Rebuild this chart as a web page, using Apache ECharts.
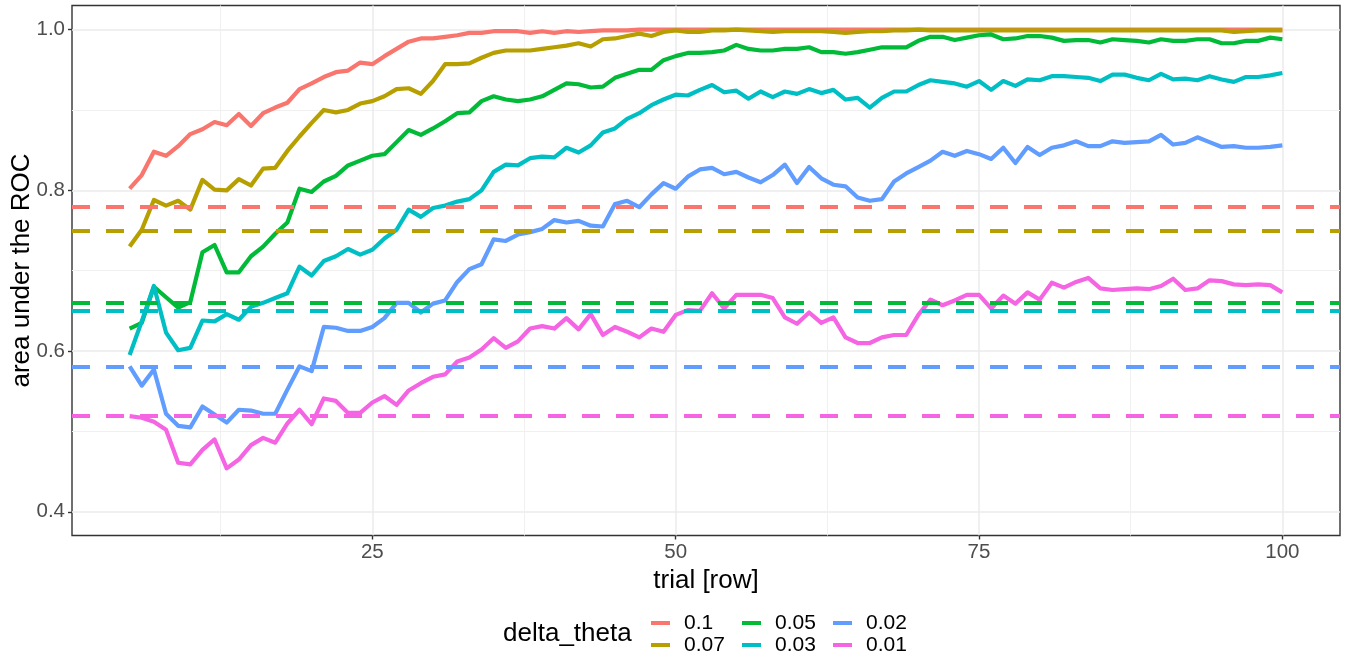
<!DOCTYPE html>
<html>
<head>
<meta charset="utf-8">
<script src="https://cdn.jsdelivr.net/npm/echarts@6/dist/echarts.min.js"></script>
<style>
html, body { margin: 0; padding: 0; background: #fff; }
#chart { width: 1351px; height: 656px; }
</style>
</head>
<body>
<div id="chart"></div>
<script>
// trials 5..100, one value per trial
const trialFirst = 5;
const trialLast = 100;

const auc_0_1 = [
  0.802, 0.819, 0.848, 0.843, 0.855, 0.870, 0.876, 0.885, 0.881, 0.895,
  0.880, 0.896, 0.903, 0.909, 0.926, 0.933, 0.941, 0.947, 0.949, 0.959,
  0.957, 0.967, 0.976, 0.985, 0.989, 0.989, 0.991, 0.993, 0.996, 0.996,
  0.998, 0.998, 0.998, 0.996, 0.998, 0.996, 0.998, 0.997, 0.998, 0.999,
  0.999, 0.999, 1.000, 1.000, 1.000, 1.000, 1.000, 1.000, 1.000, 1.000,
  1.000, 1.000, 1.000, 1.000, 1.000, 1.000, 1.000, 1.000, 1.000, 1.000,
  1.000, 1.000, 1.000, 1.000, 1.000, 1.000, 1.000, 1.000, 1.000, 1.000,
  1.000, 1.000, 1.000, 1.000, 1.000, 1.000, 1.000, 1.000, 1.000, 1.000,
  1.000, 1.000, 1.000, 1.000, 1.000, 1.000, 1.000, 1.000, 1.000, 1.000,
  1.000, 1.000, 1.000, 1.000, 1.000, 1.000
];
const auc_0_07 = [
  0.730, 0.751, 0.788, 0.781, 0.787, 0.776, 0.813, 0.801, 0.800, 0.814,
  0.806, 0.827, 0.828, 0.849, 0.867, 0.884, 0.900, 0.897, 0.900, 0.908,
  0.911, 0.917, 0.926, 0.927, 0.920, 0.936, 0.957, 0.957, 0.958, 0.965,
  0.971, 0.974, 0.974, 0.974, 0.976, 0.978, 0.980, 0.983, 0.979, 0.988,
  0.989, 0.992, 0.995, 0.992, 0.997, 0.999, 0.997, 0.997, 0.999, 0.999,
  1.000, 0.999, 0.998, 0.997, 0.998, 0.998, 0.998, 0.998, 0.997, 0.996,
  0.997, 0.998, 0.998, 0.999, 0.999, 1.000, 0.999, 0.999, 0.999, 0.999,
  0.999, 0.999, 0.999, 0.999, 0.999, 0.999, 0.999, 0.999, 0.999, 0.999,
  0.999, 0.999, 0.999, 0.999, 0.999, 0.999, 0.999, 0.999, 0.999, 0.999,
  0.999, 0.997, 0.998, 0.999, 0.999, 0.999
];
const auc_0_05 = [
  0.628, 0.635, 0.680, 0.667, 0.654, 0.661, 0.723, 0.732, 0.698, 0.698,
  0.718, 0.730, 0.746, 0.760, 0.802, 0.798, 0.811, 0.818, 0.831, 0.837,
  0.843, 0.845, 0.860, 0.875, 0.869, 0.877, 0.886, 0.896, 0.897, 0.911,
  0.917, 0.913, 0.911, 0.913, 0.917, 0.925, 0.933, 0.932, 0.928, 0.929,
  0.940, 0.945, 0.950, 0.950, 0.962, 0.967, 0.971, 0.971, 0.972, 0.974,
  0.981, 0.976, 0.974, 0.974, 0.976, 0.976, 0.978, 0.972, 0.972, 0.970,
  0.972, 0.975, 0.978, 0.978, 0.978, 0.986, 0.991, 0.991, 0.987, 0.990,
  0.993, 0.994, 0.988, 0.989, 0.992, 0.992, 0.990, 0.986, 0.987, 0.987,
  0.984, 0.988, 0.987, 0.986, 0.984, 0.988, 0.986, 0.986, 0.988, 0.988,
  0.983, 0.983, 0.986, 0.986, 0.990, 0.988
];
const auc_0_03 = [
  0.595, 0.637, 0.681, 0.623, 0.601, 0.604, 0.638, 0.637, 0.646, 0.639,
  0.655, 0.660, 0.666, 0.672, 0.705, 0.694, 0.712, 0.718, 0.727, 0.720,
  0.726, 0.740, 0.751, 0.776, 0.767, 0.778, 0.781, 0.786, 0.789, 0.800,
  0.823, 0.832, 0.831, 0.840, 0.842, 0.841, 0.853, 0.847, 0.856, 0.872,
  0.877, 0.889, 0.896, 0.906, 0.913, 0.919, 0.918, 0.925, 0.931, 0.922,
  0.924, 0.914, 0.923, 0.916, 0.923, 0.920, 0.926, 0.921, 0.925, 0.913,
  0.915, 0.903, 0.915, 0.923, 0.923, 0.931, 0.937, 0.935, 0.933, 0.929,
  0.936, 0.925, 0.936, 0.930, 0.938, 0.937, 0.942, 0.942, 0.941, 0.940,
  0.936, 0.944, 0.944, 0.940, 0.937, 0.945, 0.938, 0.939, 0.937, 0.942,
  0.938, 0.935, 0.941, 0.941, 0.943, 0.946
];
const auc_0_02 = [
  0.581, 0.557, 0.577, 0.522, 0.507, 0.505, 0.531, 0.521, 0.511, 0.527,
  0.526, 0.522, 0.522, 0.552, 0.581, 0.575, 0.630, 0.629, 0.625, 0.625,
  0.630, 0.641, 0.660, 0.660, 0.648, 0.659, 0.663, 0.686, 0.702, 0.708,
  0.739, 0.737, 0.745, 0.748, 0.752, 0.763, 0.760, 0.762, 0.756, 0.755,
  0.783, 0.787, 0.779, 0.795, 0.809, 0.802, 0.817, 0.826, 0.828, 0.820,
  0.823, 0.816, 0.810, 0.819, 0.832, 0.809, 0.829, 0.815, 0.807, 0.805,
  0.791, 0.787, 0.789, 0.811, 0.821, 0.829, 0.837, 0.848, 0.843, 0.849,
  0.845, 0.839, 0.853, 0.834, 0.854, 0.844, 0.853, 0.856, 0.861, 0.855,
  0.855, 0.861, 0.859, 0.860, 0.861, 0.869, 0.857, 0.859, 0.866, 0.860,
  0.854, 0.855, 0.853, 0.853, 0.854, 0.856
];
const auc_0_01 = [
  0.519, 0.517, 0.512, 0.502, 0.461, 0.459, 0.477, 0.490, 0.454, 0.465,
  0.483, 0.492, 0.486, 0.510, 0.527, 0.509, 0.541, 0.538, 0.523, 0.523,
  0.536, 0.544, 0.533, 0.551, 0.560, 0.568, 0.571, 0.587, 0.592, 0.602,
  0.616, 0.604, 0.612, 0.628, 0.631, 0.628, 0.641, 0.627, 0.646, 0.620,
  0.630, 0.624, 0.617, 0.628, 0.624, 0.645, 0.651, 0.650, 0.672, 0.653,
  0.670, 0.670, 0.670, 0.666, 0.642, 0.634, 0.648, 0.635, 0.642, 0.617,
  0.610, 0.610, 0.617, 0.620, 0.620, 0.645, 0.664, 0.657, 0.663, 0.670,
  0.670, 0.653, 0.669, 0.659, 0.673, 0.664, 0.685, 0.679, 0.686, 0.691,
  0.678, 0.676, 0.677, 0.678, 0.677, 0.681, 0.690, 0.676, 0.678, 0.688,
  0.687, 0.683, 0.682, 0.683, 0.682, 0.673
];

const deltaNames = ['0.1', '0.07', '0.05', '0.03', '0.02', '0.01'];
const deltaSeries = [auc_0_1, auc_0_07, auc_0_05, auc_0_03, auc_0_02, auc_0_01];
// baseline AUC per delta_theta (dashed lines)
const baselines = [0.7832, 0.7545, 0.6602, 0.6487, 0.5816, 0.5210];
const colors = ['#F8766D', '#B79F00', '#00BA38', '#00BFC4', '#619CFF', '#F564E3'];

const xTicks = [25, 50, 75, 100];
const xMinorTicks = [12.5, 37.5, 62.5, 87.5];
const yTicks = [0.4, 0.6, 0.8, 1.0];
const yMinorTicks = [0.5, 0.7, 0.9];

const trials = [];
for (let t = trialFirst; t <= trialLast; t++) trials.push(t);

const chart = echarts.init(document.getElementById('chart'));

const font = 'Liberation Sans, Arial, Helvetica, sans-serif';
const xMin = 0.25, xMax = 104.75;
const yMin = 0.3705, yMax = 1.03;

const series = deltaNames.map((name, i) => ({
  name: name,
  type: 'line',
  xAxisIndex: 0,
  yAxisIndex: 0,
  showSymbol: false,
  symbol: 'none',
  color: colors[i],
  lineStyle: { width: 4.2, color: colors[i], join: 'round', cap: 'butt' },
  data: trials.map((t, k) => [t, deltaSeries[i][k]]),
  markLine: {
    silent: true,
    symbol: ['none', 'none'],
    label: { show: false },
    lineStyle: { type: [18, 16], width: 4.2, color: colors[i] },
    emphasis: { disabled: true },
    data: [{ yAxis: baselines[i] }],
  },
  emphasis: { disabled: true },
}));

const legendBase = {
  orient: 'vertical',
  top: 612,
  height: 60,
  padding: 0,
  itemWidth: 19,
  itemHeight: 4,
  itemGap: 0,
  icon: 'rect',
  selectedMode: false,
  textStyle: { fontSize: 21, color: '#000', fontFamily: font, lineHeight: 22, padding: [0, 0, 0, 9] },
};

const option = {
  animation: false,
  backgroundColor: '#fff',
  textStyle: { fontFamily: font },
  grid: {
    left: 72,
    right: 11,
    top: 5.5,
    bottom: 120.5,
    containLabel: false,
    outerBoundsMode: 'none',
    show: true,
    borderColor: '#333333',
    borderWidth: 1.4,
    backgroundColor: 'transparent',
  },
  legend: [
    Object.assign({}, legendBase, { left: 651, data: ['0.1', '0.07'] }),
    Object.assign({}, legendBase, { left: 742, data: ['0.05', '0.03'] }),
    Object.assign({}, legendBase, { left: 833, data: ['0.02', '0.01'] }),
  ],
  graphic: [{
    type: 'text',
    left: 503,
    top: 621,
    style: { text: 'delta_theta', fill: '#000', font: '26px ' + font },
  }],
  xAxis: [{
    type: 'value',
    min: xMin,
    max: xMax,
    axisLine: { show: false },
    axisTick: { show: true, customValues: xTicks, length: 4, lineStyle: { color: '#333333', width: 1.4 } },
    axisLabel: { customValues: xTicks, fontSize: 20.5, color: '#4D4D4D', margin: 6 },
    splitLine: { show: true, lineStyle: { color: '#EBEBEB', width: 1.5 } },
    name: 'trial [row]',
    nameLocation: 'middle',
    nameGap: 28,
    nameTextStyle: { fontSize: 26, color: '#000' },
  }, {
    type: 'value',
    min: xMin,
    max: xMax,
    position: 'bottom',
    axisLine: { show: false },
    axisTick: { show: false, customValues: xMinorTicks },
    axisLabel: { show: false, customValues: xMinorTicks },
    splitLine: { show: true, lineStyle: { color: '#F0F0F0', width: 1 } },
  }],
  yAxis: [{
    type: 'value',
    min: yMin,
    max: yMax,
    axisLine: { show: false },
    axisTick: { show: true, customValues: yTicks, length: 4, lineStyle: { color: '#333333', width: 1.4 } },
    axisLabel: {
      customValues: yTicks,
      fontSize: 20.5,
      color: '#4D4D4D',
      margin: 7,
      formatter: (v) => v.toFixed(1),
    },
    splitLine: { show: true, lineStyle: { color: '#EBEBEB', width: 1.5 } },
    name: 'area under the ROC',
    nameLocation: 'middle',
    nameGap: 37,
    nameRotate: 90,
    nameMoveOverlap: false,
    nameTextStyle: { fontSize: 26, color: '#000' },
  }, {
    type: 'value',
    min: yMin,
    max: yMax,
    position: 'left',
    axisLine: { show: false },
    axisTick: { show: false, customValues: yMinorTicks },
    axisLabel: { show: false, customValues: yMinorTicks },
    splitLine: { show: true, lineStyle: { color: '#F0F0F0', width: 1 } },
  }],
  series: series,
};

chart.setOption(option);
</script>
</body>
</html>
